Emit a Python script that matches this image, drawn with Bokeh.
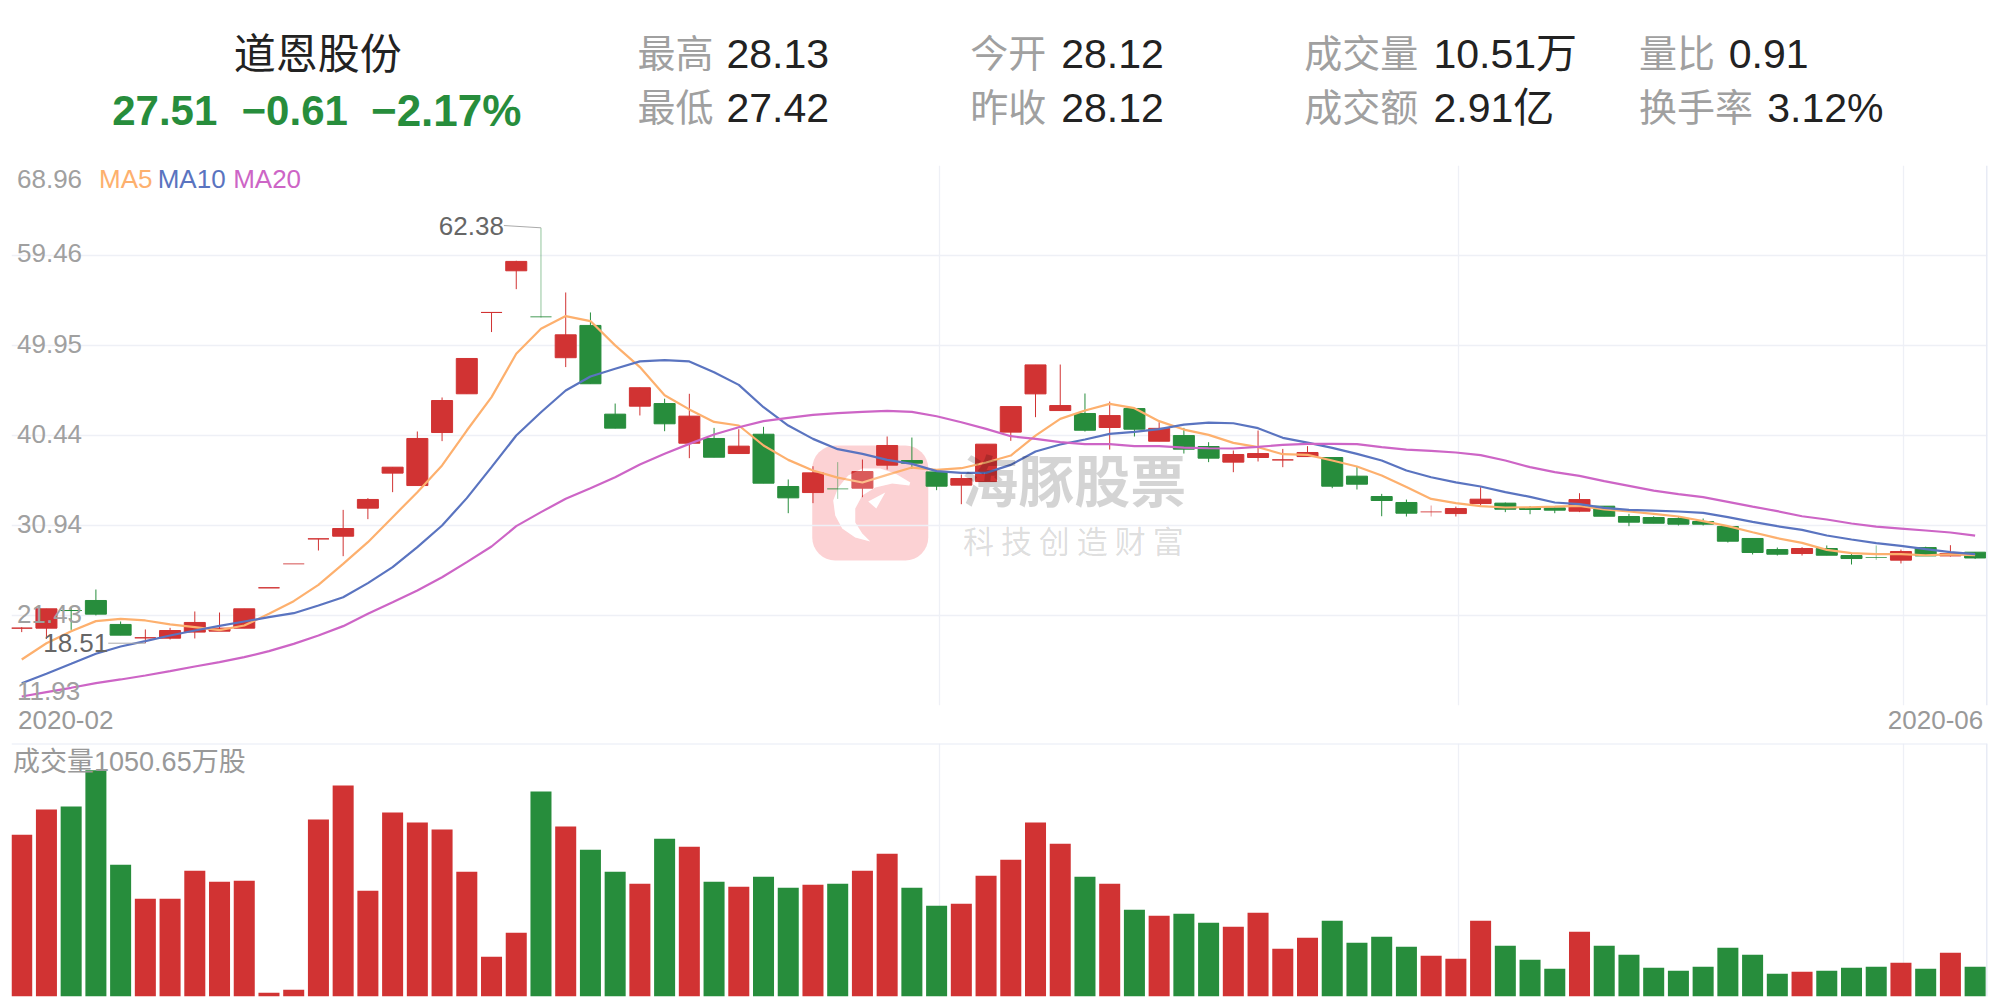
from bokeh.embed import file_html
from bokeh.layouts import column
from bokeh.models import BoxAnnotation, FixedTicker, Label, Range1d, Span
from bokeh.plotting import figure
from bokeh.resources import INLINE

# candle directions, r = up day, g = down day
direction = list("rrgggrrrrrrrrrrrrrrrrgrggrgrgrggrgrrggrr"
                 "rrrgrgrggrrrrggggrrrgggrggggggggrgggrgrg")

body_top = [20.10, 22.14, 21.96, 23.02, 20.49, 19.08, 19.85, 20.70, 20.10, 22.14,
            24.36, 26.89, 29.53, 30.62, 33.69, 37.10, 40.13, 44.14, 48.58, 53.44,
            58.83, 52.98, 51.08, 52.07, 42.70, 45.49, 43.82, 42.49, 40.13, 39.32,
            40.58, 35.06, 36.50, 34.81, 36.64, 39.39, 37.80, 36.60, 35.90, 39.53,
            43.50, 47.90, 43.61, 42.77, 42.55, 43.29, 41.20, 40.44, 39.28, 38.44,
            38.54, 37.87, 38.65, 38.12, 36.15, 34.00, 33.37, 32.38, 32.73, 33.72,
            33.30, 32.84, 32.80, 33.68, 32.98, 31.89, 31.78, 31.68, 31.36, 30.83,
            29.57, 28.40, 28.51, 28.51, 27.77, 27.56, 28.19, 28.61, 27.98, 28.12]
body_bottom = [20.10, 20.10, 21.96, 21.58, 19.36, 19.08, 19.04, 19.68, 19.78, 20.10,
               24.36, 26.89, 29.53, 29.81, 32.77, 36.47, 35.16, 40.76, 44.85, 53.44,
               57.84, 52.98, 48.66, 45.91, 41.22, 43.54, 41.68, 39.63, 38.15, 38.54,
               35.41, 33.86, 34.42, 34.81, 34.88, 37.31, 37.52, 35.09, 35.20, 35.58,
               40.80, 44.84, 43.08, 41.00, 41.29, 41.11, 39.84, 39.00, 38.05, 37.63,
               38.12, 37.87, 38.22, 35.09, 35.30, 33.58, 32.24, 32.38, 32.20, 33.26,
               32.66, 32.63, 32.56, 32.45, 31.92, 31.29, 31.18, 31.08, 31.08, 29.28,
               28.09, 27.91, 27.98, 27.80, 27.45, 27.56, 27.28, 27.73, 27.73, 27.51]
high = [20.20, 22.14, 22.31, 24.18, 20.80, 19.96, 20.13, 21.86, 21.75, 22.14,
        24.36, 26.89, 29.53, 32.59, 33.83, 37.10, 40.87, 44.46, 48.58, 53.44,
        58.90, 62.38, 55.55, 53.44, 43.82, 45.50, 44.33, 44.85, 41.25, 41.11,
        41.36, 35.80, 37.20, 37.63, 37.91, 40.34, 40.23, 36.60, 36.32, 39.53,
        43.50, 47.90, 47.94, 44.88, 44.03, 43.29, 41.85, 41.25, 39.74, 38.86,
        40.97, 39.03, 39.32, 38.12, 37.17, 34.28, 33.68, 33.05, 32.94, 34.99,
        33.37, 33.00, 32.94, 34.35, 32.98, 32.17, 31.92, 31.82, 31.68, 30.83,
        29.57, 28.61, 28.65, 28.83, 27.95, 28.83, 28.40, 28.70, 28.86, 28.13]
low = [19.68, 18.97, 19.92, 21.44, 19.36, 18.51, 18.90, 19.01, 19.78, 20.10,
       24.36, 26.89, 28.30, 27.70, 31.61, 34.46, 35.16, 39.85, 44.85, 51.37,
       55.90, 52.90, 47.67, 45.90, 41.20, 42.56, 40.90, 38.05, 38.15, 38.54,
       35.41, 32.24, 33.30, 33.75, 33.93, 36.85, 36.92, 34.67, 33.19, 35.58,
       39.88, 42.38, 43.08, 40.86, 38.96, 40.34, 39.84, 38.54, 37.63, 36.57,
       37.70, 37.10, 38.22, 34.88, 34.74, 31.92, 31.89, 31.89, 31.89, 33.05,
       32.35, 32.13, 32.24, 32.35, 31.92, 30.87, 31.18, 30.94, 30.94, 29.14,
       27.88, 27.77, 27.77, 27.80, 26.82, 27.31, 26.93, 27.73, 27.66, 27.42]

ma5 = [16.79, 18.50, 19.78, 20.84, 21.08, 20.91, 20.49, 20.20, 19.89, 20.38,
       21.61, 22.95, 24.67, 26.89, 29.18, 31.82, 34.46, 37.28, 40.97, 44.50,
       49.08, 51.72, 53.06, 52.53, 49.96, 47.67, 44.70, 43.20, 41.88, 41.50,
       39.39, 37.87, 36.75, 36.00, 35.48, 36.29, 37.06, 36.81, 36.99, 37.59,
       38.33, 40.44, 42.20, 43.08, 43.79, 43.33, 41.96, 41.07, 40.51, 39.67,
       39.21, 38.47, 38.40, 37.80, 37.17, 36.22, 35.00, 33.75, 33.30, 32.98,
       32.84, 32.87, 32.94, 33.02, 32.63, 32.42, 32.17, 31.89, 31.40, 30.87,
       30.23, 29.60, 29.11, 28.37, 28.02, 27.91, 27.91, 27.80, 27.88, 27.80]
ma10 = [14.29, 15.28, 16.33, 17.39, 18.16, 18.73, 19.32, 19.85, 20.34, 20.80,
        21.26, 21.68, 22.49, 23.37, 24.85, 26.54, 28.65, 30.94, 33.83, 37.10,
        40.44, 42.90, 45.20, 46.68, 47.49, 48.27, 48.41, 48.27, 47.13, 45.79,
        43.43, 41.50, 40.09, 39.00, 38.50, 37.87, 37.45, 36.68, 36.50, 36.50,
        37.34, 38.75, 39.49, 40.02, 40.62, 40.83, 41.11, 41.60, 41.81, 41.74,
        41.22, 40.20, 39.70, 39.14, 38.50, 37.80, 36.75, 36.04, 35.50, 35.06,
        34.46, 33.97, 33.37, 33.19, 32.80, 32.59, 32.52, 32.42, 32.28, 31.82,
        31.33, 30.87, 30.48, 29.88, 29.46, 29.07, 28.79, 28.44, 28.12, 27.91]
ma20 = [12.88, 13.34, 13.80, 14.29, 14.68, 15.10, 15.56, 16.05, 16.51, 17.04,
        17.67, 18.44, 19.32, 20.31, 21.61, 22.84, 24.08, 25.48, 27.07, 28.72,
        30.87, 32.35, 33.76, 34.88, 36.04, 37.38, 38.51, 39.56, 40.55, 41.32,
        41.96, 42.31, 42.62, 42.80, 42.94, 43.05, 42.94, 42.48, 41.85, 41.15,
        40.37, 40.09, 39.74, 39.53, 39.53, 39.32, 39.32, 39.17, 39.10, 39.07,
        39.24, 39.46, 39.56, 39.56, 39.53, 39.21, 38.96, 38.82, 38.65, 38.37,
        37.80, 37.10, 36.57, 36.18, 35.62, 35.13, 34.63, 34.25, 33.93, 33.44,
        32.94, 32.45, 31.92, 31.57, 31.15, 30.83, 30.62, 30.41, 30.20, 29.88]

volume = [672.2, 776.2, 788.6, 939.7, 547.5, 406.1, 406.1, 522.5, 476.8, 480.9,
          15.2, 27.7, 734.6, 876.0, 439.4, 763.7, 722.1, 693.0, 518.4, 164.9,
          264.7, 851.0, 705.5, 609.8, 518.4, 468.5, 655.6, 622.3, 476.8, 456.0,
          497.6, 451.8, 464.3, 468.5, 522.5, 593.2, 451.8, 377.0, 385.3, 501.7,
          568.3, 722.1, 634.8, 497.6, 468.5, 360.4, 335.4, 343.7, 306.3, 289.7,
          347.9, 198.2, 243.9, 314.6, 223.1, 248.1, 206.5, 169.1, 156.6, 314.6,
          210.7, 152.5, 115.0, 268.9, 210.7, 173.3, 119.2, 106.7, 123.4, 202.4,
          173.3, 94.2, 102.6, 106.7, 119.2, 123.4, 140.0, 115.0, 181.6, 123.4]

y_ticks = [68.96, 59.46, 49.95, 40.44, 30.94, 21.43, 11.93]
x_grid = [-0.413, 37.1, 58.1, 76.1]
x_labels = {1.78: "2020-02", 77.4: "2020-06"}
pale_days = [11, 21, 33, 57, 75]

RED = "#d13333"
GREEN = "#278d3c"
GRID = "#eef0f6"
GREY = "#a0a0a0"
SANS = "Liberation Sans, Noto Sans CJK SC"

x = list(range(len(volume)))
colors = [RED if d == "r" else GREEN for d in direction]
alphas = [0.5 if i in pale_days else 1 for i in x]
x_range = Range1d(-0.413, 79.5)


def bare(p):
    p.toolbar.logo = None
    p.outline_line_color = None
    p.min_border = 0


def header_text(p, px, py, text, color, size, align="left", style="normal"):
    p.add_layout(Label(x=px, y=py, text=text, text_color=color, text_font=SANS,
                       text_font_size=size, text_font_style=style,
                       text_align=align, text_baseline="middle"))


# header uses the picture's own pixels as its data space
head = figure(width=2001, height=160, output_backend="svg", toolbar_location=None, tools="",
              x_range=Range1d(0, 2001), y_range=Range1d(160, 0),
              x_axis_type=None, y_axis_type=None)
bare(head)
head.grid.visible = False

header_text(head, 310, 54, "道恩股份", "#222222", "42px", "center")
header_text(head, 102, 110, "27.51", GREEN, "42px", style="bold")
header_text(head, 233, 110, "−0.61", GREEN, "42px", style="bold")
header_text(head, 364, 110, "−2.17%", GREEN, "44px", style="bold")

for lx, vx, ly, label, val in [
        (634, 724, 53, "最高", "28.13"), (634, 724, 107, "最低", "27.42"),
        (971, 1063, 53, "今开", "28.12"), (971, 1063, 107, "昨收", "28.12"),
        (1309, 1440, 53, "成交量", "10.51万"), (1309, 1440, 107, "成交额", "2.91亿"),
        (1648, 1739, 53, "量比", "0.91"), (1648, 1778, 107, "换手率", "3.12%")]:
    header_text(head, lx, ly, label, GREY, "38px")
    header_text(head, vx, ly, val, "#222222", "41px")

# candlestick panel
p = figure(width=2001, height=582, output_backend="svg", toolbar_location=None, tools="",
           x_range=x_range, y_range=Range1d(11.93, 68.96))
bare(p)
p.min_border_left = 11
p.min_border_right = 14
p.min_border_top = 5
p.min_border_bottom = 37
p.yaxis.visible = False
p.xaxis.ticker = FixedTicker(ticks=list(x_labels))
p.xaxis.major_label_overrides = x_labels
p.xaxis.axis_line_color = None
p.xaxis.major_tick_line_color = None
p.xaxis.minor_tick_line_color = None
p.xaxis.major_tick_out = 0
p.xaxis.major_label_standoff = 5
p.xaxis.major_label_text_font = SANS
p.xaxis.major_label_text_font_size = "26px"
p.xaxis.major_label_text_color = "#999999"
p.xgrid.ticker = FixedTicker(ticks=x_grid)
p.ygrid.ticker = FixedTicker(ticks=y_ticks[:-1])
p.xgrid.grid_line_color = GRID
p.ygrid.grid_line_color = GRID
p.xgrid.grid_line_width = 1.3
p.ygrid.grid_line_width = 1.3
p.add_layout(Span(location=79.5, dimension="height", line_color="#e8ebf5", line_width=3))


def px_x(v):
    return (v - 21.7) / 24.72


def px_y(v):
    return 68.96 - (v - 165) * 0.10561


# watermark logo, under the candles
logo_x = [910, 905, 895, 880, 862, 848, 838, 833, 835, 842, 855, 870, 862, 855, 855, 862, 875, 892, 909]
logo_y = [482, 479, 473, 468, 468, 475, 487, 500, 515, 528, 537, 541, 533, 522, 508, 495, 487, 483, 485]
wedge_x = [868, 885, 876]
wedge_y = [501, 492, 508]
p.add_layout(BoxAnnotation(left=px_x(812), right=px_x(928), top=px_y(445), bottom=px_y(560),
                           fill_color="#f3434b", fill_alpha=0.24, line_color=None,
                           border_radius=23, level="image"))
for sx, sy in [(logo_x, logo_y), (wedge_x, wedge_y)]:
    p.patch([px_x(i) for i in sx], [px_y(i) for i in sy], fill_color="white", line_color=None, level="underlay")

p.segment(x0=x, x1=x, y0=low, y1=high, color=colors, line_width=1, line_alpha=alphas)
p.vbar(x=x, top=body_top, bottom=body_bottom, width=0.85, fill_color=colors, fill_alpha=alphas,
       line_color=colors, line_width=1, line_alpha=alphas)
p.line(x, ma5, line_color="#fdb06e", line_width=2.2)
p.line(x, ma10, line_color="#5a74c0", line_width=2.2)
p.line(x, ma20, line_color="#cd65c6", line_width=2.2)

# the logo also veils what passes over it
p.patch([px_x(i) for i in logo_x], [px_y(i) for i in logo_y], fill_color="white", fill_alpha=0.2,
        line_color=None, level="overlay")

for t in y_ticks:
    off = {68.96: -13, 11.93: 15}.get(t, 2)
    p.add_layout(Label(x=-0.19, y=t, y_offset=off, text=f"{t:.2f}", text_color=GREY, text_font=SANS,
                       text_font_size="26px", text_baseline="middle"))

for lx, text, col in [(3.13, "MA5", "#fdb06e"), (5.5, "MA10", "#5a74c0"), (8.55, "MA20", "#cd65c6")]:
    p.add_layout(Label(x=lx, y=68.96, y_offset=-13, text=text, text_color=col, text_font=SANS,
                       text_font_size="26px", text_baseline="middle"))

# high and low callouts
p.line([19.5, 21, 21], [62.62, 62.38, 62.38], line_color="#aaaaaa", line_width=1)
p.add_layout(Label(x=19.5, y=62.38, y_offset=2, text="62.38", text_color="#666666", text_font=SANS,
                   text_font_size="26px", text_align="right", text_baseline="middle"))
p.line([3.5, 5], [18.51, 18.51], line_color="#aaaaaa", line_width=1)
p.add_layout(Label(x=3.5, y=18.51, text="18.51", text_color="#666666", text_font=SANS,
                   text_font_size="26px", text_align="right", text_baseline="middle"))

p.add_layout(Label(x=px_x(1074), y=px_y(477), text="海豚股票", text_color="black", text_alpha=0.17,
                   text_font="Noto Sans CJK SC", text_font_style="bold", text_font_size="56px",
                   text_align="center", text_baseline="middle"))
p.add_layout(Label(x=px_x(1073), y=px_y(539), text="科 技 创 造 财 富", text_color="black", text_alpha=0.14,
                   text_font="Noto Sans CJK SC", text_font_size="31px",
                   text_align="center", text_baseline="middle"))

# volume panel
v = figure(width=2001, height=257, output_backend="svg", toolbar_location=None, tools="",
           x_range=x_range, y_range=Range1d(0, 1050.65))
bare(v)
v.min_border_left = 11
v.min_border_right = 14
v.min_border_top = 1
v.min_border_bottom = 3
v.xaxis.visible = False
v.yaxis.visible = False
v.ygrid.visible = False
v.xgrid.ticker = FixedTicker(ticks=x_grid)
v.xgrid.grid_line_color = GRID
v.xgrid.grid_line_width = 1.3
v.add_layout(Span(location=1050.65, dimension="width", line_color="#e8ebf5", line_width=2))
v.add_layout(Span(location=79.5, dimension="height", line_color="#e8ebf5", line_width=3))
v.vbar(x=x, top=volume, bottom=0, width=0.85, fill_color=colors, line_color=None)
v.add_layout(Label(x=-0.35, y=1050.65, y_offset=-18, text="成交量1050.65万股", text_color="#999999",
                   text_font=SANS, text_font_size="27px", text_baseline="middle"))

page = column(head, p, v, spacing=0)
open("out.html", "w").write(file_html(page, INLINE))
